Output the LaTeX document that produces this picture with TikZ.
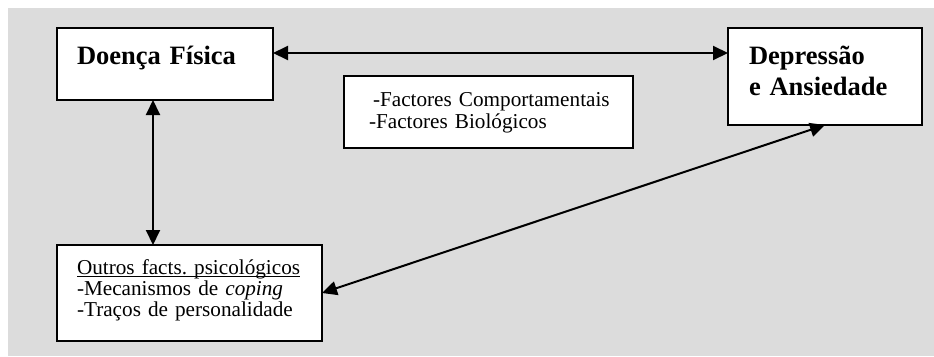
\documentclass[tikz,border=0pt]{standalone}
\usepackage{fontspec}
\setmainfont{Liberation Serif}
\usetikzlibrary{arrows.meta}
\definecolor{panel}{RGB}{220,220,220}
\frenchspacing
% underline drawn just under the baseline, crossing the descenders
\newcommand\baseul[1]{\setbox0\hbox{#1}\rlap{\rule[-2.3pt]{\wd0}{1pt}}\box0}
\begin{document}
\begin{tikzpicture}[x=1pt,y=-1pt,
  box/.style={draw, line width=2pt, fill=white, inner sep=0pt, outer sep=0pt,
              anchor=north west, align=left},
  bigtext/.style={font=\fontsize{26.5}{31}\selectfont\bfseries},
  smalltext/.style={font=\fontsize{21.2}{21.3}\selectfont},
  link/.style={line width=2pt,
               {Triangle[length=15pt,width=14pt]}-{Triangle[length=15pt,width=14pt]}}]
\useasboundingbox (0,0) rectangle (934,356);
\fill[white] (0,0) rectangle (934,356);
\fill[panel] (8,8) rectangle (934,356);

\node[box, bigtext, inner xsep=20pt, text width=176pt,
      text height=36pt, text depth=36pt] (dF) at (57,28) {Doença Física};
\node[box, bigtext, inner xsep=21pt, text width=152pt,
      text height=36pt, text depth=61pt] (dA) at (728,28) {Depressão\\e Ansiedade};
\node[box, smalltext, inner xsep=22pt, text width=245pt,
      text height=30.7pt, text depth=41.3pt] (fB) at (344,76)
  {\mbox{\hspace*{7pt}-Factores Comportamentais}\\\mbox{\hspace*{3pt}-Factores Biológicos}};
\node[box, smalltext, inner xsep=20pt, text width=225pt,
      text height=29.3pt, text depth=66.7pt] (oF) at (57,245)
  {\baseul{Outros facts. psicológicos}\\-Mecanismos de \textit{coping}\\-Traços de personalidade};

\coordinate (hy) at (0,53);
\coordinate (vx) at (153,0);
\draw[link] (dF.east |- hy) -- (dA.west |- hy);
\draw[link] (vx |- dF.south) -- (vx |- oF.north);
\draw[link] (oF.east) -- (dA.south);
\end{tikzpicture}
\end{document}
